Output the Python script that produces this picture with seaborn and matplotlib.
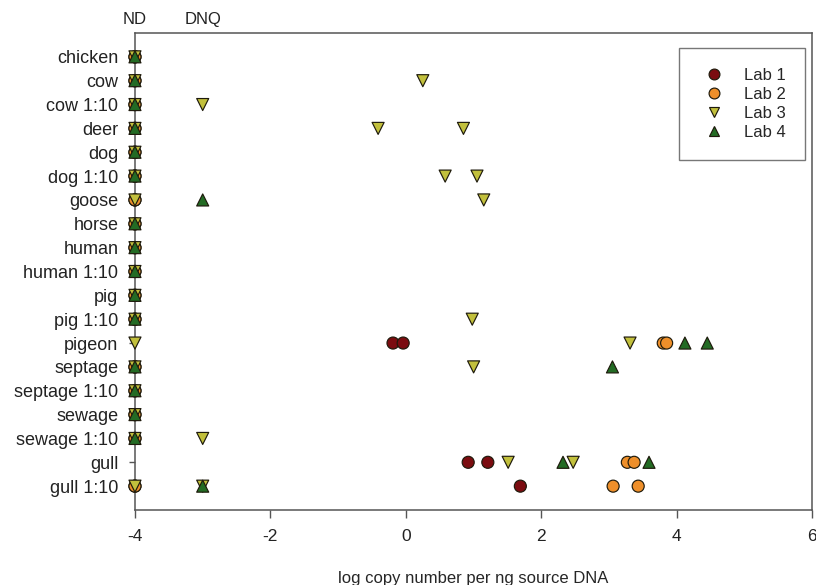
import pandas as pd
import matplotlib
matplotlib.use("Agg")
import matplotlib.pyplot as plt
import seaborn as sns

samples = ['chicken', 'cow', 'cow 1:10', 'deer', 'dog', 'dog 1:10', 'goose', 'horse',
           'human', 'human 1:10', 'pig', 'pig 1:10', 'pigeon', 'septage', 'septage 1:10',
           'sewage', 'sewage 1:10', 'gull', 'gull 1:10']
labs = ['Lab 1', 'Lab 2', 'Lab 3', 'Lab 4']

# samples not detected (ND) by every lab, plotted at -4
nd_all = ['chicken', 'cow', 'cow 1:10', 'deer', 'dog', 'dog 1:10', 'horse', 'human',
          'human 1:10', 'pig', 'pig 1:10', 'septage', 'septage 1:10', 'sewage', 'sewage 1:10']

lab1_samples = nd_all + ['goose', 'gull 1:10', 'pigeon', 'pigeon', 'gull', 'gull', 'gull 1:10']
lab1_values = [-4] * len(nd_all) + [-4, -4, -0.19, -0.04, 0.92, 1.21, 1.69]

lab2_samples = nd_all + ['goose', 'gull 1:10', 'pigeon', 'pigeon', 'gull', 'gull', 'gull 1:10', 'gull 1:10']
lab2_values = [-4] * len(nd_all) + [-4, -4, 3.80, 3.85, 3.27, 3.37, 3.06, 3.43]

lab3_samples = nd_all + ['goose', 'pigeon', 'gull 1:10', 'cow', 'cow 1:10', 'deer', 'deer',
                         'dog 1:10', 'dog 1:10', 'goose', 'pig 1:10', 'pigeon', 'septage',
                         'sewage 1:10', 'gull', 'gull', 'gull 1:10']
lab3_values = [-4] * len(nd_all) + [-4, -4, -4, 0.25, -3, -0.41, 0.85,
                                    0.58, 1.05, 1.15, 0.98, 3.31, 1.0,
                                    -3, 1.51, 2.47, -3]

lab4_samples = nd_all + ['goose', 'pigeon', 'pigeon', 'septage', 'gull', 'gull', 'gull 1:10']
lab4_values = [-4] * len(nd_all) + [-3, 4.12, 4.45, 3.05, 2.32, 3.59, -3]

top_ticks = [-4, -3]
top_labels = ['ND', 'DNQ']

colors = {'Lab 1': '#7b0c10', 'Lab 2': '#ee8f2a', 'Lab 3': '#c2c03c', 'Lab 4': '#236b24'}
markers = {'Lab 1': 'o', 'Lab 2': 'o', 'Lab 3': 'v', 'Lab 4': '^'}


def build_frame() -> pd.DataFrame:
    parts = []
    for lab, s, v in zip(labs, [lab1_samples, lab2_samples, lab3_samples, lab4_samples],
                         [lab1_values, lab2_values, lab3_values, lab4_values]):
        parts.append(pd.DataFrame({'sample': s, 'value': v, 'lab': lab}))
    df = pd.concat(parts, ignore_index=True)
    df['sample'] = pd.Categorical(df['sample'], categories=samples, ordered=True)
    df['pos'] = df['sample'].cat.codes
    return df


def main():
    df = build_frame()

    sns.set_style('ticks')
    plt.rcParams['font.family'] = ['Liberation Sans', 'DejaVu Sans']
    plt.rcParams['font.size'] = 12
    plt.rcParams['axes.unicode_minus'] = False

    fig = plt.figure(figsize=(8.16, 5.85), dpi=100)
    ax = fig.add_axes([0.1654, 0.1282, 0.8300, 0.8154])

    sns.scatterplot(data=df, x='value', y='pos', hue='lab', style='lab',
                    palette=colors, markers=markers, hue_order=labs, style_order=labs,
                    s=75, edgecolor='#1e1a0c', linewidth=0.85, clip_on=False,
                    zorder=3, ax=ax)

    ax.set_xlim(-4, 6)
    ax.set_ylim(len(samples), -1)
    ax.set_xticks([-4, -2, 0, 2, 4, 6])
    ax.set_yticks(range(len(samples)))
    ax.set_yticklabels(samples)
    ax.set_xlabel('log copy number per ng source DNA', fontsize=12, labelpad=19)
    ax.set_ylabel('')

    for side in ['left', 'right', 'top', 'bottom']:
        ax.spines[side].set_color('#555555')
        ax.spines[side].set_linewidth(1.1)
    ax.tick_params(axis='x', direction='out', length=6, width=1, color='#555555',
                   pad=8, labelsize=12.5, labelcolor='#222222')
    ax.tick_params(axis='y', direction='out', length=4, width=1, color='#555555',
                   pad=8, labelsize=13, labelcolor='#222222')

    top = ax.secondary_xaxis('top')
    top.set_xticks(top_ticks)
    top.set_xticklabels(top_labels)
    top.tick_params(length=0, pad=4, labelsize=12, labelcolor='#222222')
    top.spines['top'].set_visible(False)

    leg = ax.legend(loc='upper right', bbox_to_anchor=(0.99, 0.969), borderaxespad=0,
                    fontsize=12, frameon=True, fancybox=False, framealpha=1,
                    edgecolor='#777777', borderpad=1.2, labelspacing=0.25,
                    handlelength=1.7, handletextpad=0.95, markerscale=0.9)
    leg.get_frame().set_linewidth(1.0)

    fig.savefig('out.png', dpi=100)


if __name__ == '__main__':
    main()
